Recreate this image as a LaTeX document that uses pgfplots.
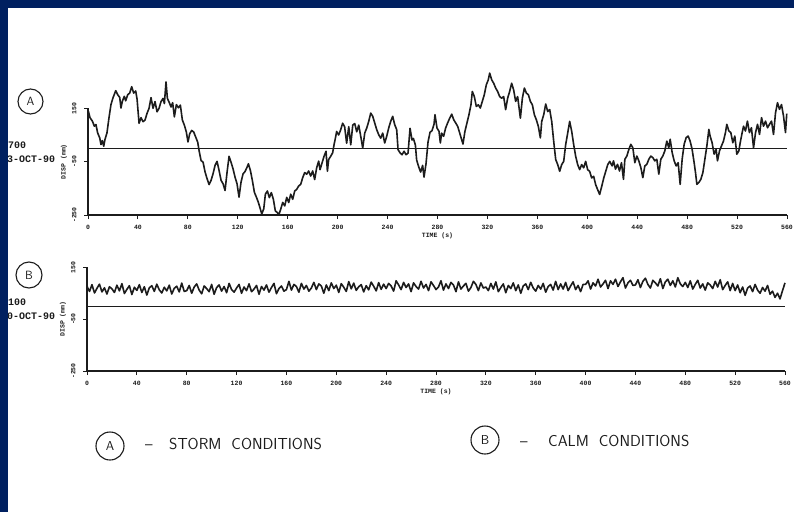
\documentclass[border=0pt]{standalone}
\usepackage{pgfplots}
\pgfplotsset{compat=1.18}
\usepackage{fontspec}
\setmainfont{Liberation Sans}
\setmonofont{Liberation Mono}
\definecolor{frame}{HTML}{002060}
\definecolor{ink}{HTML}{1C1C1C}

% storm record: displacement (mm) against time (s)
\pgfplotstableread{
t d
0.3 139
1.6 115
3.5 102
5.1 83
6.4 89
7.7 58
9.4 39
10.4 14
11.5 29
12.6 8
13.6 33
15.2 58
16.8 114
18.4 164
20.0 189
22.2 216
23.8 201
25.4 191
26.4 151
27.5 176
29.1 195
30.2 178
31.8 201
33.4 207
35.0 231
36.6 207
38.2 215
39.3 185
40.9 94
42.5 115
44.1 100
45.7 106
47.3 131
48.9 150
50.5 190
52.1 150
53.7 175
55.3 137
56.9 150
58.5 175
60.1 187
61.2 168
62.5 249
63.6 187
64.9 174
66.5 155
67.8 171
69.2 118
70.8 164
72.4 152
74.0 162
75.6 106
77.2 87
78.8 61
80.1 24
81.5 55
83.1 67
84.7 61
86.3 42
87.9 23
89.2 -14
90.6 -46
92.2 -52
93.8 -89
95.4 -114
97.0 -136
98.6 -120
100.2 -95
101.8 -64
103.4 -49
105.0 -83
106.6 -120
108.2 -133
109.8 -158
111.4 -90
113.0 -30
114.6 -52
116.2 -77
117.8 -108
119.4 -133
121.0 -183
122.6 -127
124.2 -96
125.8 -87
127.4 -71
128.5 -58
130.1 -83
131.7 -121
133.3 -165
134.9 -183
136.5 -203
138.1 -228
139.2 -246
140.8 -227
142.1 -172
143.7 -160
145.3 -185
146.9 -166
148.5 -191
150.1 -235
151.7 -241
152.8 -250
154.4 -228
156.0 -203
157.6 -216
159.2 -184
160.8 -203
162.4 -172
164.0 -191
165.6 -160
167.2 -154
168.8 -141
170.4 -135
172.0 -110
173.6 -91
175.2 -97
176.8 -85
178.4 -104
180.0 -85
181.6 -117
183.2 -73
184.8 -48
185.9 -80
187.5 -55
189.1 -30
190.7 -11
191.8 -86
192.8 -42
194.4 -30
196.0 -17
197.1 13
198.2 38
199.2 63
200.8 50
202.4 69
204.0 94
205.6 81
207.2 19
208.9 81
210.5 13
212.1 87
213.7 93
215.3 62
216.9 87
218.5 45
220.1 1
221.7 57
223.3 76
224.9 101
226.5 132
228.1 120
229.7 95
231.3 70
232.9 51
234.5 38
236.1 57
237.7 20
239.3 45
240.9 76
242.5 101
244.1 120
245.7 89
247.3 70
248.4 -5
250.0 -17
251.6 -24
253.2 -11
254.8 -24
256.4 -18
258.0 75
259.6 31
260.7 37
262.3 12
263.3 -44
264.9 -69
266.5 -89
268.1 -64
269.2 -108
270.8 -58
272.4 23
274.0 60
275.6 66
277.2 90
278.0 126
279.6 76
281.2 64
282.3 20
283.3 57
284.9 45
286.5 76
288.1 95
289.8 113
291.4 128
293.0 107
294.6 95
296.2 82
297.8 57
299.4 32
300.4 16
302.0 64
303.6 95
305.2 126
306.8 163
307.9 213
309.5 194
311.1 157
312.7 163
314.3 151
315.9 176
317.5 201
319.1 238
320.7 257
321.8 282
323.4 257
325.0 244
326.6 226
328.2 213
329.8 194
331.4 188
333.0 194
334.6 145
336.2 188
337.8 213
339.4 244
341.0 219
342.6 176
344.2 194
346.4 113
348.0 188
349.6 226
351.2 207
352.8 201
354.4 176
356.0 163
357.6 126
359.2 107
360.8 82
362.4 39
363.5 101
365.1 126
366.7 166
368.3 138
369.9 145
371.5 101
373.1 26
374.7 -42
376.3 -61
377.9 -86
379.5 -61
381.1 -49
382.7 14
384.3 57
385.9 101
387.5 64
389.1 14
390.7 -30
392.3 -61
393.9 -80
395.5 -61
397.1 -73
398.7 -49
400.3 -80
401.9 -86
403.5 -111
405.1 -105
406.7 -136
408.3 -155
409.9 -173
411.6 -142
413.2 -111
414.8 -86
416.4 -61
418.0 -49
419.9 -66
421.0 -47
422.6 -78
424.2 -60
425.8 -85
427.4 -54
429.0 -116
430.1 -41
431.7 -29
433.3 -4
434.9 15
436.5 2
438.1 -54
439.7 -29
441.3 -47
442.9 -72
444.5 -110
446.1 -66
447.7 -60
449.3 -41
450.9 -29
452.5 -35
454.1 -47
455.7 -41
457.3 -97
458.9 -41
460.5 -29
462.1 -10
463.7 27
465.3 2
466.4 34
468.0 -16
469.6 -47
471.2 -66
472.8 -54
474.4 -135
476.0 -41
477.6 15
479.2 40
480.8 46
482.4 27
484.0 -4
485.6 -54
486.7 -91
487.8 -135
489.4 -128
491.0 -116
492.6 -91
494.2 -41
495.8 9
497.4 71
498.4 46
500.0 21
501.6 -22
503.2 -4
504.3 -47
505.9 -10
507.5 9
509.1 27
510.7 59
511.8 90
513.4 65
515.0 59
516.6 21
518.2 46
519.8 -22
521.4 -10
522.5 21
524.1 59
525.2 83
526.7 65
528.3 102
529.9 59
531.5 77
533.2 2
534.8 59
536.4 90
538.0 52
539.6 115
541.2 83
542.8 102
544.4 77
546.0 90
547.6 102
549.2 52
550.8 133
552.4 171
554.0 146
555.6 164
557.2 121
558.8 59
559.8 130
}\storm

\newcommand\tickfont{\fontsize{6.5}{7}\selectfont\ttfamily\bfseries}
\newcommand\datefont{\fontsize{10}{11}\selectfont\ttfamily\bfseries}
\newcommand\keyfont{\fontsize{16}{18}\selectfont\sffamily}

\pgfplotsset{
  record/.style={
    scale only axis, anchor=south west,
    xmin=0, xmax=560, ymin=-250, ymax=150,
    axis x line*=bottom, axis y line*=left,
    clip=false,
    axis line style={ink, line width=1.2bp},
    tick style={ink, line width=1bp},
    tick align=outside, major tick length=4bp,
    xtick={0,40,...,560},
    xticklabels={0,40,80,120,160,200,240,280,320,360,400,440,480,520,560},
    ytick={-250,-50,150},
    yticklabels={-250,-50,150},
    ticklabel style={font=\tickfont, text=ink},
    xticklabel style={anchor=north, yshift=-3bp},
    yticklabel style={rotate=90, anchor=south},
    yticklabel shift=4bp,
  },
  trace/.style={ink, line width=1.6bp, line join=round},
  zero/.style={ink, line width=1.2bp},
}

\begin{document}
\begin{tikzpicture}
\path[use as bounding box, fill=white] (0,0) rectangle (794bp,-512bp);

% (A) storm record
\begin{axis}[record, at={(88bp,-215bp)}, width=699bp, height=106.7bp]
  \addplot[zero] coordinates {(0,0) (560,0)};
  \addplot[trace] table[x=t, y=d] {\storm};
  \node[rotate=90, font=\tickfont, text=ink] at ([xshift=-24bp]axis description cs:0,0.5) {DISP (mm)};
  \node[font=\tickfont, text=ink] at ([yshift=-21bp]axis description cs:0.5,0) {TIME (s)};
\end{axis}

% (B) calm record
\begin{axis}[record, at={(87bp,-371bp)}, width=698bp, height=103.7bp]
  \addplot[zero] coordinates {(0,0) (560,0)};
  \addplot[trace] coordinates {
    (0,77) (2,57) (4,83) (6,51) (8,69) (10,85) (12,55) (14,71) (16,47) (18,75)
    (20,67) (22,53) (24,81) (26,59) (28,87) (30,49) (32,65) (34,79) (36,45) (38,73)
    (40,61) (42,83) (44,53) (46,75) (48,43) (50,71) (52,79) (54,57) (56,85) (58,63)
    (60,51) (62,73) (64,59) (66,81) (68,47) (70,69) (72,77) (74,55) (76,89) (78,57)
    (80,60) (82,80) (84,50) (86,74) (88,86) (90,62) (92,48) (94,78) (96,68) (98,56)
    (100,84) (102,46) (104,72) (106,82) (108,58) (110,76) (112,52) (114,88) (116,64) (118,54)
    (120,70) (122,84) (124,50) (126,74) (128,60) (130,86) (132,56) (134,66) (136,80) (138,46)
    (140,76) (142,62) (144,82) (146,54) (148,72) (150,88) (152,48) (154,68) (156,78) (158,58)
    (160,64) (162,96) (164,62) (166,84) (168,76) (170,54) (172,88) (174,66) (176,80) (178,58)
    (180,70) (182,92) (184,64) (186,86) (188,78) (190,50) (192,82) (194,60) (196,90) (198,68)
    (200,81) (202,53) (204,87) (206,73) (208,57) (210,95) (212,67) (214,89) (216,61) (218,75)
    (220,83) (222,55) (224,79) (226,63) (228,93) (230,77) (232,59) (234,91) (236,65) (238,85)
    (240,68) (242,88) (244,78) (246,58) (248,98) (250,82) (252,64) (254,92) (256,72) (258,86)
    (260,56) (262,90) (264,76) (266,66) (268,96) (270,70) (272,84) (274,60) (276,94) (278,80)
    (280,64) (282,74) (284,98) (286,62) (288,86) (290,68) (292,92) (294,82) (296,56) (298,94)
    (300,66) (302,78) (304,88) (306,58) (308,72) (310,96) (312,84) (314,60) (316,90) (318,70)
    (320,74) (322,60) (324,88) (326,66) (328,94) (330,56) (332,72) (334,86) (336,52) (338,80)
    (340,68) (342,90) (344,60) (346,82) (348,50) (350,78) (352,86) (354,64) (356,92) (358,70)
    (360,58) (362,80) (364,66) (366,88) (368,54) (370,76) (372,84) (374,62) (376,96) (378,64)
    (380,86) (382,66) (384,92) (386,60) (388,78) (390,94) (392,64) (394,80) (396,56) (398,84)
    (400,84) (402,98) (404,66) (406,90) (408,78) (410,104) (412,74) (414,86) (416,100) (418,68)
    (420,98) (422,84) (424,104) (426,76) (428,94) (430,110) (432,70) (434,90) (436,100) (438,80)
    (440,82) (442,102) (444,72) (446,96) (448,108) (450,84) (452,70) (454,100) (456,90) (458,78)
    (460,106) (462,68) (464,94) (466,104) (468,80) (470,98) (472,74) (474,110) (476,86) (478,76)
    (480,92) (482,72) (484,98) (486,66) (488,84) (490,100) (492,70) (494,86) (496,62) (498,90)
    (500,82) (502,68) (504,96) (506,74) (508,102) (510,64) (512,80) (514,94) (516,60) (518,88)
    (520,60) (522,82) (524,52) (526,74) (528,42) (530,70) (532,78) (534,56) (536,84) (538,62)
    (540,50) (542,72) (544,58) (546,80) (548,46) (550,58) (552,34) (554,50) (556,28) (558,60)
    (560,90)
  };
  \node[rotate=90, font=\tickfont, text=ink] at ([xshift=-24bp]axis description cs:0,0.5) {DISP (mm)};
  \node[font=\tickfont, text=ink] at ([yshift=-21bp]axis description cs:0.5,0) {TIME (s)};
\end{axis}

% panel tags and record headers
\draw[ink, line width=1.1bp] (30.5bp,-101.5bp) circle (12.5bp);
\node[font=\fontsize{12}{12}\selectfont\sffamily, text=ink] at (30.5bp,-101.5bp) {A};
\draw[ink, line width=1.1bp] (29bp,-275bp) circle (13bp);
\node[font=\fontsize{12}{12}\selectfont\sffamily, text=ink] at (29bp,-275bp) {B};
\node[font=\datefont, text=ink, anchor=west, inner sep=0pt] at (8bp,-145bp) {700};
\node[font=\datefont, text=ink, anchor=west, inner sep=0pt] at (7bp,-159bp) {3-OCT-90};
\node[font=\datefont, text=ink, anchor=west, inner sep=0pt] at (8bp,-302bp) {100};
\node[font=\datefont, text=ink, anchor=west, inner sep=0pt] at (7bp,-316bp) {0-OCT-90};

% key
\draw[ink, line width=1.1bp] (110bp,-446bp) circle (14bp);
\node[font=\fontsize{13}{13}\selectfont\sffamily, text=ink] at (110bp,-446bp) {A};
\node[font=\keyfont, text=ink, anchor=base west, inner sep=0pt] at (145bp,-449bp) {--};
\node[font=\keyfont, text=ink, anchor=base west, inner sep=0pt] at (169bp,-449bp) {STORM\ \ CONDITIONS};
\draw[ink, line width=1.1bp] (485bp,-440bp) circle (14bp);
\node[font=\fontsize{13}{13}\selectfont\sffamily, text=ink] at (485bp,-440bp) {B};
\node[font=\keyfont, text=ink, anchor=base west, inner sep=0pt] at (520bp,-446bp) {--};
\node[font=\keyfont, text=ink, anchor=base west, inner sep=0pt] at (548bp,-446bp) {CALM\ \ CONDITIONS};

% frame
\fill[frame] (0,0) rectangle (794bp,-8bp);
\fill[frame] (0,0) rectangle (8bp,-512bp);
\end{tikzpicture}
\end{document}
